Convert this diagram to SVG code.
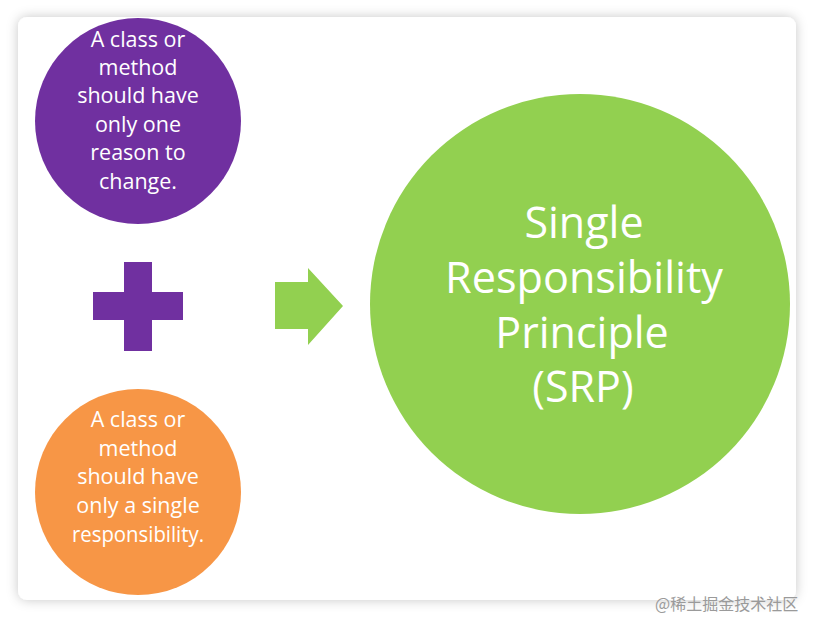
<svg xmlns="http://www.w3.org/2000/svg" width="813" height="618" viewBox="0 0 813 618">
<defs>
<filter id="sh" x="-5%" y="-5%" width="110%" height="110%">
<feDropShadow dx="0" dy="0" stdDeviation="6" flood-color="#000" flood-opacity="0.22"/>
</filter>
<clipPath id="card"><rect x="18" y="17" width="778" height="583" rx="9"/></clipPath>
<style>
.t{font-family:"Open Sans","Noto Sans",sans-serif;fill:#fff;text-anchor:middle}
.s{font-size:21.5px}
.b{font-size:43px}
.wm{font-family:"Noto Sans CJK SC",sans-serif;font-size:16px;fill:#9a9a9a}
</style>
</defs>
<rect width="813" height="618" fill="#fff"/>
<rect x="18" y="17" width="778" height="583" rx="9" fill="#fff" filter="url(#sh)"/>
<g clip-path="url(#card)">
<g id="node-change">
<circle cx="138" cy="121" r="103" fill="#7030A0"/>
<text class="t s" x="138" y="47">A class or</text>
<text class="t s" x="138" y="75">method</text>
<text class="t s" x="138" y="103">should have</text>
<text class="t s" x="138" y="132">only one</text>
<text class="t s" x="138" y="160">reason to</text>
<text class="t s" x="138" y="189">change.</text>
</g>
<g id="node-plus">
<path d="M124 262H152V292H183V320H152V351H124V320H93V292H124Z" fill="#7030A0"/>
</g>
<g id="node-responsibility">
<circle cx="138" cy="492" r="103" fill="#F79646"/>
<text class="t s" x="138" y="427">A class or</text>
<text class="t s" x="138" y="456">method</text>
<text class="t s" x="138" y="484">should have</text>
<text class="t s" x="138" y="513">only a single</text>
<text class="t s" x="138" y="542" textLength="132" lengthAdjust="spacingAndGlyphs">responsibility.</text>
</g>
<g id="connectors">
<path d="M275 282H308V268L343 306L308 345V329H275Z" fill="#92D050"/>
</g>
<g id="node-srp">
<circle cx="580" cy="304" r="210" fill="#92D050"/>
<text class="t b" x="584" y="238">Single</text>
<text class="t b" x="584" y="293" textLength="278" lengthAdjust="spacingAndGlyphs">Responsibility</text>
<text class="t b" x="582" y="348">Principle</text>
<text class="t b" x="583" y="402">(SRP)</text>
</g>
</g>
<text class="wm" x="655" y="610">@稀土掘金技术社区</text>
</svg>
